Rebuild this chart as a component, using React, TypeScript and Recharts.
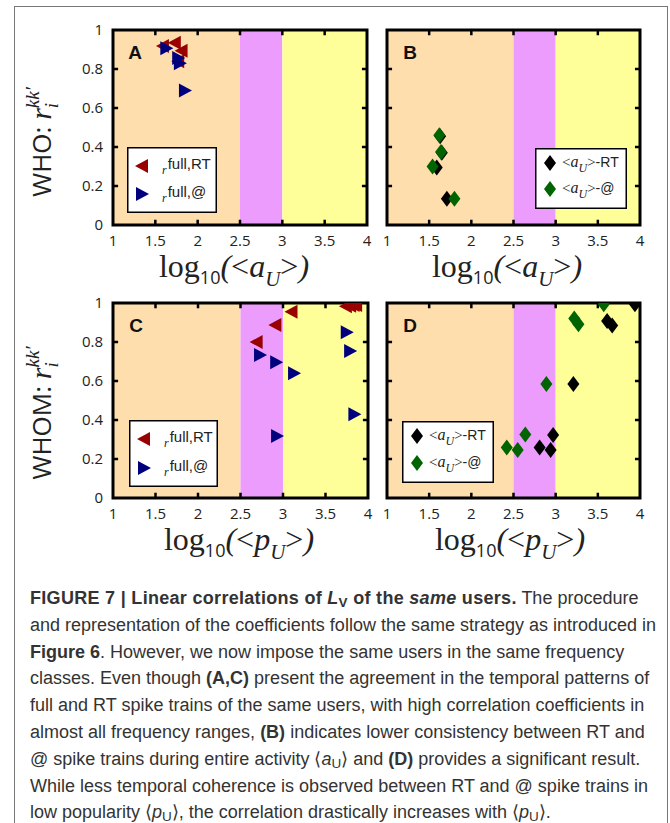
import React from 'react';
import { ScatterChart, Scatter, XAxis, YAxis, ReferenceArea, ReferenceLine, Legend } from 'recharts';

// ---------- data ----------
const xTicks = [1, 1.5, 2, 2.5, 3, 3.5, 4];
const yTicks = [0, 0.2, 0.4, 0.6, 0.8, 1];
const xTickLabels = ['1', '1.5', '2', '2.5', '3', '3.5', '4'];
const yTickLabels = ['0', '0.2', '0.4', '0.6', '0.8', '1'];
const bandEdges = [1, 2.5, 3, 4];

// Panel A (WHO, x = log10 <a_U>)
const aFullRT_x = [1.59, 1.73, 1.81, 1.77];
const aFullRT_y = [0.918, 0.935, 0.894, 0.84];
const aFullAt_x = [1.63, 1.77, 1.79, 1.85];
const aFullAt_y = [0.906, 0.856, 0.83, 0.69];

// Panel B
const bRT_x = [1.63, 1.65, 1.59, 1.71];
const bRT_y = [0.455, 0.37, 0.295, 0.135];
const bAt_x = [1.62, 1.64, 1.54, 1.8];
const bAt_y = [0.46, 0.375, 0.3, 0.135];

// Panel C (WHOM, x = log10 <p_U>)
const cFullRT_x = [2.69, 2.91, 3.1, 3.74, 3.79, 3.83, 3.86];
const cFullRT_y = [0.8, 0.887, 0.955, 0.983, 0.986, 0.99, 0.99];
const cFullAt_x = [2.73, 2.92, 3.13, 2.93, 3.75, 3.79, 3.84];
const cFullAt_y = [0.733, 0.696, 0.64, 0.318, 0.85, 0.754, 0.43];

// Panel D
const dRT_x = [3.94, 3.61, 3.67, 3.21, 2.97, 2.81, 2.94];
const dRT_y = [0.993, 0.908, 0.885, 0.585, 0.323, 0.259, 0.246];
const dAt_x = [3.57, 3.22, 3.27, 2.89, 2.64, 2.42, 2.55];
const dAt_y = [0.993, 0.92, 0.891, 0.585, 0.326, 0.259, 0.246];

const zip = (xs: number[], ys: number[]) => xs.map((x, i) => ({ x, y: ys[i] }));

// ---------- styles ----------
const BAND_COLORS = ['#FFDEAD', '#EB9CFD', '#FFFF99'];
const RED = '#990000';
const BLUE = '#00007F';
const GREEN = '#006400';
const BLACK = '#000000';
const SANS = '"Open Sans", "Liberation Sans", sans-serif';
const SERIF = '"Liberation Serif", "DejaVu Serif", serif';
const ARIAL = '"Liberation Sans", Arial, sans-serif';
// inward tick length expressed in axis units (≈5px)
const X_TICK_LEN = 0.06;
const Y_TICK_LEN = 0.027;

const LeftTri = (color: string) => (p: any) => (
  <polygon
    points={`${p.cx - 7},${p.cy} ${p.cx + 6},${p.cy - 7} ${p.cx + 6},${p.cy + 7}`}
    fill={color}
  />
);
const RightTri = (color: string) => (p: any) => (
  <polygon
    points={`${p.cx + 7},${p.cy} ${p.cx - 6},${p.cy - 7} ${p.cx - 6},${p.cy + 7}`}
    fill={color}
  />
);
const Diamond = (color: string) => (p: any) => (
  <polygon
    points={`${p.cx},${p.cy - 8} ${p.cx + 6},${p.cy} ${p.cx},${p.cy + 8} ${p.cx - 6},${p.cy}`}
    fill={color}
  />
);

const Empty = () => <g />;

type Series = { name: string; data: { x: number; y: number }[]; shape: any };

type LegendEntry = { marker: 'left' | 'right' | 'diamond'; color: string; kind: 'full' | 'avg'; label: string; v: string };

function LegendBox({ w, h, entries, rowY, textX }: { w: number; h: number; entries: LegendEntry[]; rowY: number[]; textX: number }) {
  return (
    <svg width={w} height={h} style={{ display: 'block' }}>
      <rect x={0.75} y={0.75} width={w - 1.5} height={h - 1.5} fill="#fff" stroke="#000" strokeWidth={1.5} />
      {entries.map((e, i) => {
        const cx = 15;
        const cy = rowY[i];
        let shape;
        if (e.marker === 'left')
          shape = <polygon points={`${cx - 7},${cy} ${cx + 6},${cy - 7} ${cx + 6},${cy + 7}`} fill={e.color} />;
        else if (e.marker === 'right')
          shape = <polygon points={`${cx + 7},${cy} ${cx - 6},${cy - 7} ${cx - 6},${cy + 7}`} fill={e.color} />;
        else shape = <polygon points={`${cx},${cy - 8} ${cx + 6},${cy} ${cx},${cy + 8} ${cx - 6},${cy}`} fill={e.color} />;
        return (
          <g key={i}>
            {shape}
            {e.kind === 'full' ? (
              <text x={textX} y={cy + 8} fill="#222">
                <tspan fontFamily={SERIF} fontStyle="italic" fontSize={12}>r</tspan>
                <tspan fontFamily={ARIAL} fontSize={15} dx={1} dy={-5}>{e.label}</tspan>
              </text>
            ) : (
              <text x={textX} y={cy + 4} fill="#222">
                <tspan fontFamily={SERIF} fontSize={15}>&lt;</tspan>
                <tspan fontFamily={SERIF} fontStyle="italic" fontSize={16}>{e.v}</tspan>
                <tspan fontFamily={SERIF} fontStyle="italic" fontSize={12} dy={5}>U</tspan>
                <tspan fontFamily={SERIF} fontSize={15} dy={-5}>&gt;</tspan>
                <tspan fontFamily={ARIAL} fontSize={14}>{e.label}</tspan>
              </text>
            )}
          </g>
        );
      })}
    </svg>
  );
}

type PanelProps = {
  L: number; T: number; R: number; B: number;
  series: Series[];
  showY: boolean;
  legend: { left: number; top: number; w: number; h: number; entries: LegendEntry[]; rowY: number[]; textX: number };
};

function Panel({ L, T, R, B, series, showY, legend }: PanelProps) {
  const padL = 60, padT = 10, padR = 10, padB = 40;
  const yW = 40, xH = 30;
  const width = R - L + padL + padR;
  const height = B - T + padT + padB;
  const tickStyle = { fontSize: 15, fill: '#222', fontFamily: SANS };
  const innerX = xTicks.slice(1, -1);
  const innerY = yTicks.slice(1, -1);
  const tickStroke = { stroke: '#000', strokeWidth: 2.5 };
  return (
    <div style={{ position: 'absolute', left: L - padL, top: T - padT }}>
      <ScatterChart
        width={width}
        height={height}
        margin={{ left: padL - yW, top: padT, right: padR, bottom: padB - xH }}
      >
        {bandEdges.slice(0, -1).map((e, i) => (
          <ReferenceArea key={i} x1={e} x2={bandEdges[i + 1]} y1={0} y2={1} fill={BAND_COLORS[i]} fillOpacity={1} stroke="none" />
        ))}
        <XAxis
          type="number" dataKey="x" domain={[1, 4]} ticks={xTicks} height={xH}
          allowDataOverflow
          tickFormatter={(v: number) => xTickLabels[xTicks.indexOf(v)]}
          tick={tickStyle} axisLine={false} tickLine={false} tickSize={0} tickMargin={10}
          interval={0}
        />
        <YAxis
          type="number" dataKey="y" domain={[0, 1]} ticks={yTicks} width={yW}
          allowDataOverflow
          tickFormatter={(v: number) => yTickLabels[yTicks.indexOf(v)]}
          tick={showY ? tickStyle : Empty} axisLine={false} tickLine={false} tickSize={0} tickMargin={10}
          interval={0}
        />
        {innerX.map((t) => (
          <ReferenceLine key={'xb' + t} segment={[{ x: t, y: 0 }, { x: t, y: Y_TICK_LEN }]} {...tickStroke} />
        ))}
        {innerX.map((t) => (
          <ReferenceLine key={'xt' + t} segment={[{ x: t, y: 1 }, { x: t, y: 1 - Y_TICK_LEN }]} {...tickStroke} />
        ))}
        {innerY.map((t) => (
          <ReferenceLine key={'yl' + t} segment={[{ x: 1, y: t }, { x: 1 + X_TICK_LEN, y: t }]} {...tickStroke} />
        ))}
        {innerY.map((t) => (
          <ReferenceLine key={'yr' + t} segment={[{ x: 4, y: t }, { x: 4 - X_TICK_LEN, y: t }]} {...tickStroke} />
        ))}
        <ReferenceArea x1={1} x2={4} y1={0} y2={1} fill="none" fillOpacity={0} stroke="#000" strokeWidth={3} />
        {series.map((s) => (
          <Scatter key={s.name} name={s.name} data={s.data} shape={s.shape} isAnimationActive={false} />
        ))}
        <Legend
          layout="vertical" align="center" verticalAlign="middle"
          wrapperStyle={{ left: legend.left, top: legend.top, width: legend.w, height: legend.h, right: 'auto', bottom: 'auto' }}
          content={() => <LegendBox w={legend.w} h={legend.h} entries={legend.entries} rowY={legend.rowY} textX={legend.textX} />}
        />
      </ScatterChart>
    </div>
  );
}

function XTitle({ cx, cy, v }: { cx: number; cy: number; v: string }) {
  return (
    <div style={{ position: 'absolute', left: cx, top: cy, transform: 'translate(-50%,-50%)', whiteSpace: 'nowrap', fontFamily: SERIF, fontSize: 32, color: '#222', lineHeight: 1 }}>
      log<span style={{ fontFamily: SANS, fontSize: 18, position: 'relative', top: 7 }}>10</span>
      <i>(</i>&lt;<i>{v}</i><i style={{ fontSize: 21, position: 'relative', top: 9 }}>U</i>&gt;<i>)</i>
    </div>
  );
}

function YTitle({ cx, cy, word }: { cx: number; cy: number; word: string }) {
  return (
    <div style={{ position: 'absolute', left: cx, top: cy, transform: 'translate(-50%,-50%) rotate(-90deg)', whiteSpace: 'nowrap', color: '#222', lineHeight: 1 }}>
      <span style={{ fontFamily: SANS, fontSize: 26 }}>{word}: </span>
      <span style={{ fontFamily: SERIF, fontStyle: 'italic', fontSize: 30 }}>r</span>
      <span style={{ display: 'inline-flex', flexDirection: 'column', verticalAlign: 'middle', fontFamily: SERIF, fontStyle: 'italic', fontSize: 19, lineHeight: 1, position: 'relative', top: -5 }}>
        <span>kk′</span>
        <span>i</span>
      </span>
    </div>
  );
}

function PanelLetter({ x, y, t }: { x: number; y: number; t: string }) {
  return (
    <div style={{ position: 'absolute', left: x, top: y, transform: 'translate(-50%,-50%)', fontFamily: ARIAL, fontWeight: 'bold', fontSize: 19, color: '#111', lineHeight: 1 }}>{t}</div>
  );
}

const Sub = ({ c }: { c: string }) => (
  <span style={{ fontSize: '0.75em', position: 'relative', top: '0.22em', lineHeight: 0 }}>{c}</span>
);

export default function App() {
  const fullEntries = (a: string, b: string): LegendEntry[] => [
    { marker: 'left', color: RED, kind: 'full', label: a, v: '' },
    { marker: 'right', color: BLUE, kind: 'full', label: b, v: '' },
  ];
  const avgEntries = (v: string): LegendEntry[] => [
    { marker: 'diamond', color: BLACK, kind: 'avg', label: '-RT', v },
    { marker: 'diamond', color: GREEN, kind: 'avg', label: '-@', v },
  ];
  return (
    <div style={{ position: 'absolute', left: 0, top: 0, width: 670, height: 823, background: '#fff', overflow: 'hidden' }}>
      <div style={{ position: 'absolute', left: 14, top: 6, width: 652, height: 840, borderTop: '1.5px solid #777', borderLeft: '1.5px solid #777', borderRight: '1.5px solid #777' }} />

      <Panel
        L={113} T={30} R={367} B={225} showY
        series={[
          { name: 'r full,RT', data: zip(aFullRT_x, aFullRT_y), shape: LeftTri(RED) },
          { name: 'r full,@', data: zip(aFullAt_x, aFullAt_y), shape: RightTri(BLUE) },
        ]}
        legend={{ left: 74, top: 127, w: 90, h: 66, entries: fullEntries('full,RT', 'full,@'), rowY: [19, 47], textX: 35 }}
      />
      <Panel
        L={387} T={30} R={640} B={225} showY={false}
        series={[
          { name: '<aU>-RT', data: zip(bRT_x, bRT_y), shape: Diamond(BLACK) },
          { name: '<aU>-@', data: zip(bAt_x, bAt_y), shape: Diamond(GREEN) },
        ]}
        legend={{ left: 208, top: 128, w: 92, h: 61, entries: avgEntries('a'), rowY: [15, 41], textX: 27 }}
      />
      <Panel
        L={113} T={303} R={368} B={498} showY
        series={[
          { name: 'r full,RT', data: zip(cFullRT_x, cFullRT_y), shape: LeftTri(RED) },
          { name: 'r full,@', data: zip(cFullAt_x, cFullAt_y), shape: RightTri(BLUE) },
        ]}
        legend={{ left: 76, top: 127, w: 89, h: 67, entries: fullEntries('full,RT', 'full,@'), rowY: [19, 48], textX: 35 }}
      />
      <Panel
        L={387} T={303} R={640} B={498} showY={false}
        series={[
          { name: '<aU>-RT', data: zip(dRT_x, dRT_y), shape: Diamond(BLACK) },
          { name: '<aU>-@', data: zip(dAt_x, dAt_y), shape: Diamond(GREEN) },
        ]}
        legend={{ left: 75, top: 128, w: 92, h: 62, entries: avgEntries('a'), rowY: [15, 42], textX: 27 }}
      />

      <PanelLetter x={135} y={52} t="A" />
      <PanelLetter x={410} y={52} t="B" />
      <PanelLetter x={136} y={325} t="C" />
      <PanelLetter x={410} y={325} t="D" />

      <XTitle cx={234} cy={266} v="a" />
      <XTitle cx={507} cy={266} v="a" />
      <XTitle cx={239} cy={539} v="p" />
      <XTitle cx={510} cy={539} v="p" />

      <YTitle cx={46} cy={142} word="WHO" />
      <YTitle cx={46} cy={413} word="WHOM" />

      <div style={{ position: 'absolute', left: 30, top: 585, width: 640, fontFamily: ARIAL, fontSize: 18, lineHeight: '26.8px', color: '#333', whiteSpace: 'nowrap' }}>
        <div><b style={{ letterSpacing: '0.3px' }}>FIGURE 7 | Linear correlations of <i>L</i><Sub c="V" /> of the <i>same</i> users.</b> The procedure</div>
        <div>and representation of the coefficients follow the same strategy as introduced in</div>
        <div><b>Figure 6</b>. However, we now impose the same users in the same frequency</div>
        <div>classes. Even though <b>(A,C)</b> present the agreement in the temporal patterns of</div>
        <div>full and RT spike trains of the same users, with high correlation coefficients in</div>
        <div>almost all frequency ranges, <b>(B)</b> indicates lower consistency between RT and</div>
        <div>@ spike trains during entire activity ⟨<i>a</i><Sub c="U" />⟩ and <b>(D)</b> provides a significant result.</div>
        <div>While less temporal coherence is observed between RT and @ spike trains in</div>
        <div>low popularity ⟨<i>p</i><Sub c="U" />⟩, the correlation drastically increases with ⟨<i>p</i><Sub c="U" />⟩.</div>
      </div>
    </div>
  );
}
